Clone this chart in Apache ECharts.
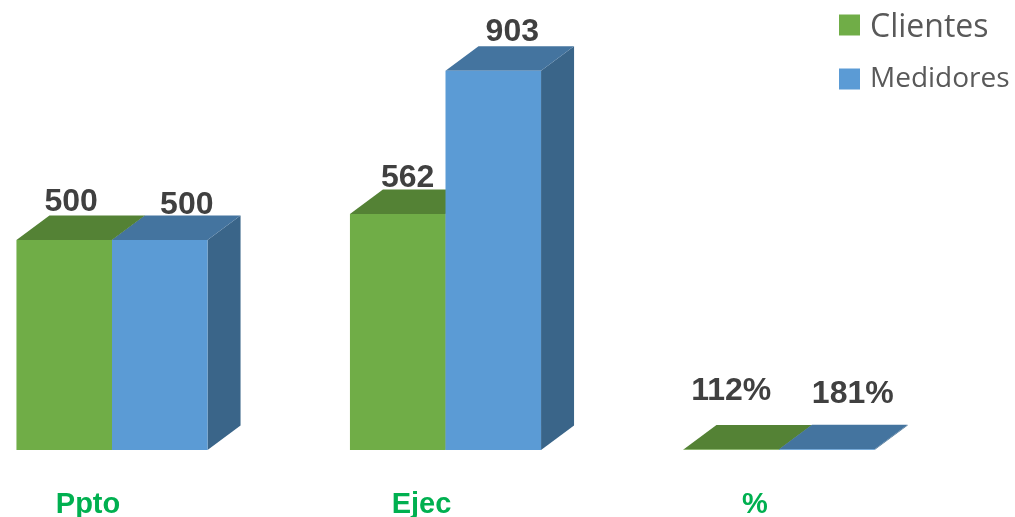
<!DOCTYPE html>
<html>
<head>
<meta charset="utf-8">
<style>
  html, body { margin: 0; padding: 0; background: #fff; }
  #chart { width: 1015px; height: 517px; }
</style>
<script src="https://cdn.jsdelivr.net/npm/echarts@6/dist/echarts.min.js"></script>
</head>
<body>
<div id="chart"></div>
<script>
var categories = ['Ppto', 'Ejec', '%'];
var clientes = [500, 562, 1.12];
var medidores = [500, 903, 1.81];
var clientesLabels = ['500', '562', '112%'];
var medidoresLabels = ['500', '903', '181%'];

// label shift from the middle of the front face, in px (hand placed in the original)
var clientesNudge = [[7, -38], [10, -36], [0, -58]];
var medidoresNudge = [[27, -35], [19, -39], [26, -55]];

var DEPTH_X = 33;
var DEPTH_Y = 24.5;

function bar3d(slot, labels, nudge, front, top, side) {
  return function(params, api) {
    var i = api.value(0);
    var base = api.coord([i, 0]);
    var head = api.coord([i, api.value(1)]);
    var width = api.size([1, 0])[0] * 0.2865;
    var x0 = base[0] + slot * width;
    var x1 = x0 + width;
    var yb = base[1];
    var yt = head[1];
    var dx = DEPTH_X;
    var dy = DEPTH_Y;
    return {
      type: 'group',
      children: [
        {
          type: 'polygon',
          shape: { points: [[x1, yb], [x1 + dx, yb - dy], [x1 + dx, yt - dy], [x1, yt]] },
          style: { fill: side }
        },
        {
          type: 'polygon',
          shape: { points: [[x0, yt], [x0 + dx, yt - dy], [x1 + dx, yt - dy], [x1, yt]] },
          style: { fill: top }
        },
        {
          type: 'rect',
          shape: { x: x0, y: yt, width: width, height: yb - yt },
          style: { fill: front }
        },
        {
          type: 'text',
          z2: 10,
          style: {
            text: labels[i],
            x: (x0 + x1) / 2 + nudge[i][0],
            y: yt + nudge[i][1],
            align: 'center',
            verticalAlign: 'middle',
            fill: '#404040',
            font: 'bold 32px "Liberation Sans", Arial, sans-serif'
          }
        }
      ]
    };
  };
}

function toRows(values) {
  var rows = [];
  for (var i = 0; i < values.length; i++) {
    rows.push([i, values[i]]);
  }
  return rows;
}

var chart = echarts.init(document.getElementById('chart'));
chart.setOption({
  animation: false,
  legend: {
    orient: 'vertical',
    left: 839,
    top: 6,
    padding: 0,
    itemGap: 21,
    itemWidth: 21,
    itemHeight: 21,
    icon: 'rect',
    data: ['Clientes', 'Medidores'],
    formatter: function(name) {
      return name == 'Clientes' ? '{big|' + name + '}' : '{small|' + name + '}';
    },
    textStyle: {
      rich: {
        big: { fontFamily: 'Open Sans', fontSize: 32, lineHeight: 21, color: '#595959', padding: [6, 0, 0, 5] },
        small: { fontFamily: 'Open Sans', fontSize: 28, lineHeight: 21, color: '#595959', padding: [0, 0, 0, 5] }
      }
    }
  },
  grid: { left: -54.75, right: 69.25, top: 30, bottom: 67, outerBoundsMode: 'none' },
  xAxis: {
    type: 'category',
    data: categories,
    axisLine: { show: false },
    axisTick: { show: false },
    axisLabel: {
      interval: 0,
      margin: 40,
      padding: [0, 48, 0, 0],
      color: '#00B050',
      fontFamily: 'Liberation Sans',
      fontWeight: 'bold',
      fontSize: 29
    }
  },
  yAxis: { type: 'value', min: 0, max: 1000, show: false },
  series: [
    {
      name: 'Clientes',
      type: 'custom',
      clip: false,
      itemStyle: { color: '#70AD47' },
      encode: { x: 0, y: 1 },
      data: toRows(clientes),
      renderItem: bar3d(-1, clientesLabels, clientesNudge, '#70AD47', '#548235', '#43682A')
    },
    {
      name: 'Medidores',
      type: 'custom',
      clip: false,
      itemStyle: { color: '#5B9BD5' },
      encode: { x: 0, y: 1 },
      data: toRows(medidores),
      renderItem: bar3d(0, medidoresLabels, medidoresNudge, '#5B9BD5', '#44749F', '#3A6589')
    }
  ]
});
</script>
</body>
</html>
